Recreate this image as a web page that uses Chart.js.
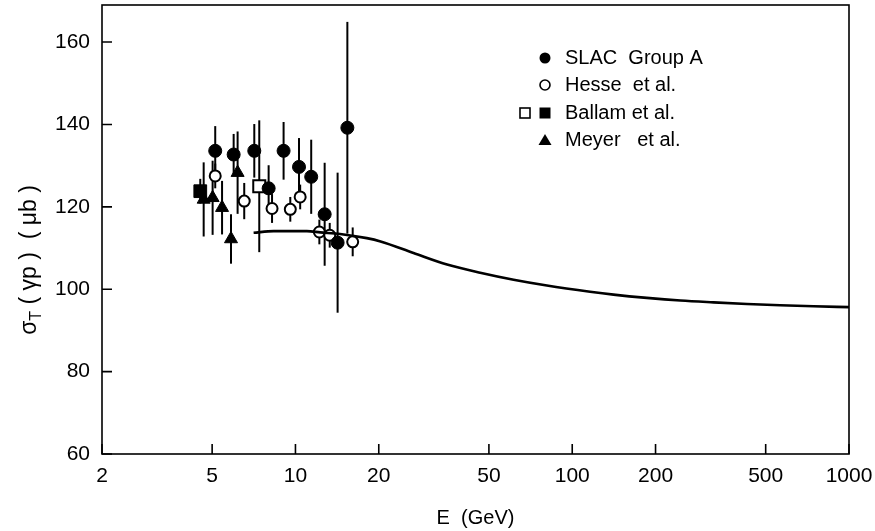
<!DOCTYPE html>
<html>
<head>
<meta charset="utf-8">
<script src="https://cdn.jsdelivr.net/npm/chart.js@4"></script>
<style>
  html, body { margin: 0; padding: 0; background: #fff; }
  #wrap { width: 875px; height: 531px; }
</style>
</head>
<body>
<div id="wrap"><canvas id="c" width="875" height="531"></canvas></div>
<script>
// SLAC Group A (filled circles)
const slacE     = [5.13, 5.98, 7.10, 8.0, 9.06, 10.3, 11.4, 12.75, 14.2, 15.4];
const slacSigma = [133.6, 132.7, 133.6, 124.5, 133.6, 129.7, 127.3, 118.2, 111.3, 139.2];
const slacErr   = [6, 5, 6.5, 5.6, 7, 7, 9, 12.5, 17, 25.7];

// Hesse et al. (open circles)
const hesseE     = [5.13, 6.53, 8.23, 9.58, 10.4, 12.2, 13.3, 16.1];
const hesseSigma = [127.5, 121.4, 119.6, 119.4, 122.4, 113.9, 113.1, 111.5];
const hesseErr   = [3, 4.4, 3.5, 3, 3, 3, 3, 3.5];

// Ballam et al. (open and filled squares)
const ballamOpenE     = [7.40];
const ballamOpenSigma = [125.0];
const ballamOpenErr   = [16];
const ballamFillE     = [4.53];
const ballamFillSigma = [123.8];
const ballamFillErr   = [3];

// Meyer et al. (triangles)
const meyerE     = [4.66, 5.02, 5.43, 5.85, 6.18];
const meyerSigma = [121.8, 122.2, 119.8, 112.2, 128.3];
const meyerErr   = [9, 9, 6.5, 6, 10];

// theory curve
const curveE     = [7.06, 8.34, 11.0, 12.3, 14.5, 18.1, 20.3, 26.7, 35.3, 46.5, 61.4, 81, 116, 141, 186, 246, 324, 428, 564, 745, 1000];
const curveSigma = [113.7, 114.1, 114.1, 113.8, 113.4, 112.4, 111.6, 108.8, 106.0, 104.0, 102.3, 100.9, 99.4, 98.7, 97.9, 97.25, 96.8, 96.4, 96.1, 95.85, 95.65];

const xTicks = [2, 5, 10, 20, 50, 100, 200, 500, 1000];
const yTicks = [60, 80, 100, 120, 140, 160];

const FONT = '"Liberation Sans", Arial, sans-serif';

function pts(es, vs, errs) {
    return es.map((e, i) => ({ x: e, y: vs[i], err: errs ? errs[i] : 0 }));
}

// error bars under the markers
const errorBars = {
    id: 'errorBars',
    beforeDatasetsDraw(chart) {
        const ctx = chart.ctx;
        const ys = chart.scales.y;
        ctx.save();
        ctx.strokeStyle = '#000';
        ctx.lineWidth = 2;
        chart.data.datasets.forEach((ds, i) => {
            if (!ds.errorBars) return;
            const meta = chart.getDatasetMeta(i);
            meta.data.forEach((el, j) => {
                const d = ds.data[j];
                ctx.beginPath();
                ctx.moveTo(el.x, ys.getPixelForValue(d.y + d.err));
                ctx.lineTo(el.x, ys.getPixelForValue(d.y - d.err));
                ctx.stroke();
            });
        });
        ctx.restore();
    }
};

// frame, inward ticks, y title and legend
const decor = {
    id: 'decor',
    afterDraw(chart) {
        const ctx = chart.ctx;
        const a = chart.chartArea;
        const xs = chart.scales.x, ys = chart.scales.y;
        ctx.save();
        ctx.strokeStyle = '#000';
        ctx.lineWidth = 1.6;
        ctx.strokeRect(a.left, a.top, a.right - a.left, a.bottom - a.top);
        ctx.beginPath();
        xTicks.forEach(v => {
            const px = xs.getPixelForValue(v);
            ctx.moveTo(px, a.bottom);
            ctx.lineTo(px, a.bottom - 10);
        });
        yTicks.forEach(v => {
            const py = ys.getPixelForValue(v);
            ctx.moveTo(a.left, py);
            ctx.lineTo(a.left + 10, py);
        });
        ctx.stroke();

        // y axis title with subscript
        ctx.fillStyle = '#000';
        ctx.translate(30, 260);
        ctx.rotate(-Math.PI / 2);
        const big = '23px ' + FONT, small = '16px ' + FONT;
        const parts = [['σ', big, 0], ['T', small, 7], [' ( γp )  ( μb )', big, 0]];
        let w = 0;
        parts.forEach(p => { ctx.font = p[1]; w += ctx.measureText(p[0]).width; });
        let x = -w / 2;
        ctx.textBaseline = 'middle';
        parts.forEach(p => {
            ctx.font = p[1];
            ctx.fillText(p[0], x, p[2]);
            x += ctx.measureText(p[0]).width;
        });
        ctx.restore();

        // legend
        ctx.save();
        ctx.fillStyle = '#000';
        ctx.strokeStyle = '#000';
        ctx.lineWidth = 1.6;
        ctx.font = '20px ' + FONT;
        ctx.textBaseline = 'middle';
        const mx = 545, tx = 565;
        const rows = [58, 85, 113, 140];
        const labels = ['SLAC  Group A', 'Hesse  et al.', 'Ballam et al.', 'Meyer   et al.'];
        labels.forEach((t, i) => ctx.fillText(t, tx, rows[i]));
        ctx.beginPath(); ctx.arc(mx, rows[0], 5.5, 0, Math.PI * 2); ctx.fill();
        ctx.beginPath(); ctx.arc(mx, rows[1], 5, 0, Math.PI * 2); ctx.stroke();
        ctx.strokeRect(mx - 25, rows[2] - 5, 10, 10);
        ctx.fillRect(mx - 5.5, rows[2] - 5.5, 11, 11);
        ctx.beginPath();
        ctx.moveTo(mx, rows[3] - 6); ctx.lineTo(mx + 6.5, rows[3] + 5); ctx.lineTo(mx - 6.5, rows[3] + 5);
        ctx.closePath(); ctx.fill();
        ctx.restore();
    }
};

new Chart(document.getElementById('c'), {
    type: 'scatter',
    data: {
        datasets: [
            {
                label: 'curve', type: 'line', data: pts(curveE, curveSigma),
                borderColor: '#000', borderWidth: 2.6, pointRadius: 0,
                cubicInterpolationMode: 'monotone', fill: false
            },
            {
                label: 'SLAC Group A', data: pts(slacE, slacSigma, slacErr), errorBars: true,
                pointStyle: 'circle', pointRadius: 6.5, backgroundColor: '#000', borderColor: '#000', borderWidth: 1
            },
            {
                label: 'Hesse et al.', data: pts(hesseE, hesseSigma, hesseErr), errorBars: true,
                pointStyle: 'circle', pointRadius: 5.5, backgroundColor: '#fff', borderColor: '#000', borderWidth: 2
            },
            {
                label: 'Ballam et al. (open)', data: pts(ballamOpenE, ballamOpenSigma, ballamOpenErr), errorBars: true,
                pointStyle: 'rect', pointRadius: 8.5, backgroundColor: '#fff', borderColor: '#000', borderWidth: 2
            },
            {
                label: 'Ballam et al.', data: pts(ballamFillE, ballamFillSigma, ballamFillErr), errorBars: true,
                pointStyle: 'rect', pointRadius: 9, backgroundColor: '#000', borderColor: '#000', borderWidth: 1
            },
            {
                label: 'Meyer et al.', data: pts(meyerE, meyerSigma, meyerErr), errorBars: true,
                pointStyle: 'triangle', pointRadius: 7.5, backgroundColor: '#000', borderColor: '#000', borderWidth: 1
            }
        ]
    },
    options: {
        responsive: false,
        animation: false,
        layout: { autoPadding: false, padding: { top: 5, right: 26, left: 0, bottom: 0 } },
        plugins: { legend: { display: false }, tooltip: { enabled: false } },
        scales: {
            x: {
                type: 'logarithmic', min: 2, max: 1000,
                grid: { display: false, drawTicks: false },
                border: { display: false },
                afterBuildTicks: s => { s.ticks = xTicks.map(v => ({ value: v })); },
                afterFit: s => { s.height = 77; s.paddingLeft = 0; s.paddingRight = 0; },
                ticks: { color: '#000', font: { family: FONT, size: 21 }, padding: 10, maxRotation: 0, autoSkip: false,
                         callback: v => String(v) },
                title: { display: true, text: 'E  (GeV)', color: '#000', font: { family: FONT, size: 20 },
                         padding: { top: 0, bottom: 1 } }
            },
            y: {
                min: 60, max: 169,
                grid: { display: false, drawTicks: false },
                border: { display: false },
                afterBuildTicks: s => { s.ticks = yTicks.map(v => ({ value: v })); },
                afterFit: s => { s.width = 102; s.paddingTop = 0; s.paddingBottom = 0; },
                ticks: { color: '#000', font: { family: FONT, size: 21 }, padding: 12 }
            }
        }
    },
    plugins: [errorBars, decor]
});
</script>
</body>
</html>
